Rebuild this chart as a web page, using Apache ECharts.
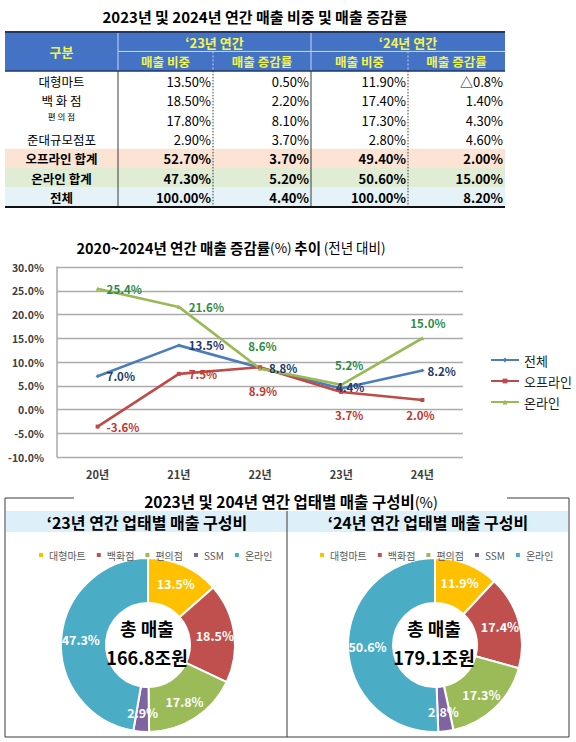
<!DOCTYPE html>
<html><head><meta charset="utf-8">
<script src="https://cdn.jsdelivr.net/npm/echarts@6/dist/echarts.min.js"></script>
<style>html,body{margin:0;padding:0;background:#fff}#c{width:576px;height:742px}</style>
</head><body><div id="c"></div>
<script>
// ---------------- data ----------------
const tableTitle = '2023년 및 2024년 연간 매출 비중 및 매출 증감률';
const tableCorner = '구분';
const tableHeadYears = ['‘23년 연간', '‘24년 연간'];
const tableHeadSub = ['매출 비중', '매출 증감률'];
const tableRows = ['대형마트', '백 화 점', '편 의 점', '준대규모점포', '오프라인 합계', '온라인 합계', '전체'];
const share23 = [13.5, 18.5, 17.8, 2.9, 52.7, 47.3, 100.0];
const growth23 = [0.5, 2.2, 8.1, 3.7, 3.7, 5.2, 4.4];
const share24 = [11.9, 17.4, 17.3, 2.8, 49.4, 50.6, 100.0];
const growth24 = [-0.8, 1.4, 4.3, 4.6, 2.0, 15.0, 8.2];

const lineTitleParts = ['2020~2024년 연간 매출 증감률', '(%)', '추이', '(전년 대비)'];
const years = ['20년', '21년', '22년', '23년', '24년'];
const lineNames = ['전체', '오프라인', '온라인'];
const totalGrowth = [7.0, 13.5, 8.8, 4.4, 8.2];
const offlineGrowth = [-3.6, 7.5, 8.9, 3.7, 2.0];
const onlineGrowth = [25.4, 21.6, 8.6, 5.2, 15.0];
const yMin = -10, yMax = 30, yStep = 5;

const mixTitleParts = ['2023년 및 204년 연간 업태별 매출 구성비', '(%)'];
const mixPanelTitles = ['‘23년 연간 업태별 매출 구성비', '‘24년 연간 업태별 매출 구성비'];
const mixNames = ['대형마트', '백화점', '편의점', 'SSM', '온라인'];
const mix23 = [13.5, 18.5, 17.8, 2.9, 47.3];
const mix24 = [11.9, 17.4, 17.3, 2.8, 50.6];
const totalLabel = '총 매출';
const totalSales = [166.8, 179.1];

// ---------------- layout / style ----------------
const FONT = "'Noto Sans CJK KR','Noto Sans',sans-serif";
const colEdges = [0, 113, 208, 306, 403, 500];
const rowBg = ['#ffffff', '#ffffff', '#ffffff', '#ffffff', '#FCE4D4', '#E1ECD4', '#E5F2F7'];
const HEAD_BG = '#4472C4', HEAD_FG = '#F2F44E';
const lineColors = ['#4A7EBB', '#BE4B48', '#98B954'];
const lineLabelColors = ['#1F3A6B', '#C0392F', '#2E8B45'];
const lineSymbols = ['diamond', 'rect', 'triangle'];
const pieColors = ['#FFC000', '#C0504D', '#9BBB59', '#8064A2', '#4BACC6'];

const placeTotal = [
  {position: 'right', distance: 7}, {position: 'right', distance: 8}, {position: 'right', distance: 7},
  {position: 'inside', offset: [9, -2]}, {position: 'right', distance: 3}];
const placeOffline = [
  {position: 'right', distance: 7}, {position: 'right', distance: 8},
  {position: 'bottom', distance: 16, offset: [3, 0]}, {position: 'bottom', distance: 15, offset: [8, 0]},
  {position: 'bottom', distance: 7, offset: [-2, 0]}];
const placeOnline = [
  {position: 'right', distance: 7}, {position: 'right', distance: 8},
  {position: 'top', distance: 15, offset: [2.5, 0]}, {position: 'top', distance: 12, offset: [8, 0]},
  {position: 'top', distance: 7.5, offset: [5.5, 0]}];

function fmtPct(v) { return v < 0 ? '△' + Math.abs(v).toFixed(1) + '%' : v.toFixed(2) + '%'; }

// table cells
const cells = [];
cells.push({c0: 0, r0: 0, c1: 1, r1: 2, text: tableCorner, bg: HEAD_BG, fg: HEAD_FG, bold: true, align: 'center', size: 13});
tableHeadYears.forEach((t, i) => {
  cells.push({c0: 1 + 2 * i, r0: 0, c1: 3 + 2 * i, r1: 1, text: t, bg: HEAD_BG, fg: HEAD_FG, bold: true, align: 'center', size: 13});
  tableHeadSub.forEach((s, j) => cells.push({c0: 1 + 2 * i + j, r0: 1, c1: 2 + 2 * i + j, r1: 2, text: s, bg: HEAD_BG, fg: HEAD_FG, bold: true, align: 'center', size: 12.5}));
});
tableRows.forEach((name, r) => {
  const bold = r >= 4, small = r === 2;
  cells.push({c0: 0, r0: r + 2, c1: 1, r1: r + 3, text: name, bg: rowBg[r], fg: '#000', bold, align: 'center', size: small ? 8.5 : 12.5, top: small});
  [share23, growth23, share24, growth24].forEach((arr, k) =>
    cells.push({c0: k + 1, r0: r + 2, c1: k + 2, r1: r + 3, text: fmtPct(arr[r]), bg: rowBg[r], fg: '#000', bold, align: 'right', size: 13}));
});

function renderCell(params, api) {
  const c = cells[params.dataIndex];
  const p0 = api.coord([api.value(0), api.value(1)]);
  const p1 = api.coord([api.value(2), api.value(3)]);
  const x = p0[0], y = p0[1], w = p1[0] - p0[0], h = p1[1] - p0[1];
  return {type: 'group', children: [
    {type: 'rect', shape: {x, y, width: w, height: h}, style: {fill: c.bg}},
    {type: 'text', style: {
      text: c.text, x: c.align === 'right' ? x + w - 2 : x + w / 2,
      y: c.top ? y + 1.5 : y + h / 2 + 0.5,
      align: c.align, verticalAlign: c.top ? 'top' : 'middle',
      fontSize: c.size, fontWeight: c.bold ? 'bold' : 'normal', fontFamily: FONT, fill: c.fg}}
  ]};
}
function renderBorders(params, api) {
  const W = colEdges[5];
  const L = (x1, r1, x2, r2, stroke, w, dash) => {
    const a = api.coord([x1, r1]), b = api.coord([x2, r2]);
    const st = {stroke, lineWidth: w};
    if (dash) st.lineDash = dash;
    return {type: 'line', shape: {x1: a[0], y1: a[1], x2: b[0], y2: b[1]}, style: st};
  };
  const ch = [];
  ch.push(L(colEdges[1], 1, W, 1, '#C9D6F0', 1));
  [1, 3].forEach(c => ch.push(L(colEdges[c], 0, colEdges[c], 2, '#C9D6F0', 1)));
  [2, 4].forEach(c => ch.push(L(colEdges[c], 1, colEdges[c], 2, '#C9D6F0', 1, [2, 2])));
  [1, 3].forEach(c => ch.push(L(colEdges[c], 2, colEdges[c], 9, '#3A3A3A', 1)));
  [2, 4].forEach(c => ch.push(L(colEdges[c], 2, colEdges[c], 9, '#3A3A3A', 1, [1.5, 1.5])));
  ch.push(L(0, 0, W, 0, '#1F3864', 2));
  ch.push(L(0, 2, W, 2, '#1F3864', 1.5));
  ch.push(L(0, 9, W, 9, '#111111', 2));
  return {type: 'group', children: ch};
}

function lineSeries(idx, values, place) {
  return {
    name: lineNames[idx], type: 'line', xAxisIndex: 0, yAxisIndex: 0,
    symbol: lineSymbols[idx], symbolSize: 4, showSymbol: true,
    lineStyle: {color: lineColors[idx], width: 2.6},
    itemStyle: {color: lineColors[idx]},
    label: {show: true, color: lineLabelColors[idx], fontSize: 11.5, fontWeight: 'bold', fontFamily: FONT,
      formatter: p => Number(p.value).toFixed(1) + '%'},
    emphasis: {disabled: true},
    data: values.map((v, i) => ({value: v, label: place[i]}))
  };
}

function pieSeries(values, cx) {
  return {
    type: 'pie', center: [cx, 645], radius: [42, 87], startAngle: 90, clockwise: true,
    avoidLabelOverlap: false, emphasis: {disabled: true}, silent: true,
    itemStyle: {borderColor: '#ffffff', borderWidth: 2},
    label: {show: true, position: 'inside', color: '#ffffff', fontWeight: 'bold', fontSize: 12.5, fontFamily: FONT,
      formatter: p => Number(p.value).toFixed(1) + '%'},
    labelLine: {show: false},
    data: values.map((v, i) => ({name: 'p:' + mixNames[i], value: v, itemStyle: {color: pieColors[i]}}))
  };
}

const pieLegend = (left) => ({
  data: mixNames.map(n => 'p:' + n), formatter: n => n.replace(/^p:/, ''),
  left, top: 545, icon: 'rect', itemWidth: 6, itemHeight: 6, itemGap: 9,
  selectedMode: false, textStyle: {fontSize: 10, color: '#595959', fontFamily: FONT}
});

const line = (x1, y1, x2, y2) => ({type: 'line', shape: {x1, y1, x2, y2}, style: {stroke: '#3A3A3A', lineWidth: 1}, z: 10});
const txt = (x, y, text, rich, extra) => ({type: 'text', x, y, z: 20,
  style: Object.assign({text, rich, align: 'center', verticalAlign: 'middle', fontFamily: FONT, fill: '#000'}, extra || {})});

const boldRich = (size) => ({b: {fontSize: size, fontWeight: 'bold', fontFamily: FONT, fill: '#000'},
  n: {fontSize: size - 1, fontWeight: 'normal', fontFamily: FONT, fill: '#000'}});

const option = {
  animation: false,
  backgroundColor: '#ffffff',
  textStyle: {fontFamily: FONT},
  grid: [
    {left: 57, top: 267, width: 406, height: 190},
    {left: 5, top: 32, width: 500, height: 175}
  ],
  xAxis: [
    {type: 'category', gridIndex: 0, data: years, boundaryGap: true,
      axisLine: {show: false}, axisTick: {show: false},
      axisLabel: {fontSize: 11, fontWeight: 'bold', color: '#404040', margin: 11, fontFamily: FONT}},
    {type: 'value', gridIndex: 1, min: 0, max: colEdges[5], show: false}
  ],
  yAxis: [
    {type: 'value', gridIndex: 0, min: yMin, max: yMax, interval: yStep,
      axisLine: {show: true, lineStyle: {color: '#A9A9A9', width: 1.5}}, axisTick: {show: false},
      splitLine: {lineStyle: {color: '#ABABAB', width: 1.3}},
      axisLabel: {formatter: v => v.toFixed(1) + '%', fontSize: 10.5, fontWeight: 'bold', color: '#404040', margin: 13, fontFamily: FONT}},
    {type: 'value', gridIndex: 1, min: 0, max: 9, inverse: true, show: false}
  ],
  legend: [
    {data: lineNames, orient: 'vertical', left: 485, top: 348, itemWidth: 28, itemHeight: 6, itemGap: 7,
      selectedMode: false, textStyle: {fontSize: 13, color: '#222', fontFamily: FONT, lineHeight: 14}},
    pieLegend(32),
    pieLegend(313)
  ],
  series: [
    {type: 'custom', xAxisIndex: 1, yAxisIndex: 1, silent: true, clip: false,
      encode: {x: [0, 2], y: [1, 3]}, renderItem: renderCell,
      data: cells.map(c => [colEdges[c.c0], c.r0, colEdges[c.c1], c.r1])},
    {type: 'custom', xAxisIndex: 1, yAxisIndex: 1, silent: true, clip: false, z: 5,
      encode: {x: 0, y: 1}, renderItem: renderBorders, data: [[0, 0]]},
    lineSeries(0, totalGrowth, placeTotal),
    lineSeries(1, offlineGrowth, placeOffline),
    lineSeries(2, onlineGrowth, placeOnline),
    pieSeries(mix23, 148),
    pieSeries(mix24, 435)
  ],
  graphic: [
    {type: 'rect', shape: {x: 6, y: 511, width: 562, height: 21}, style: {fill: '#DDEFF8'}, z: 1},
    line(5, 498, 74, 498), line(507, 498, 569, 498),
    line(5, 498, 5, 737), line(569, 498, 569, 737), line(5, 737, 569, 737),
    line(287, 511, 287, 737),
    txt(255, 16, tableTitle, null, {fontSize: 15, fontWeight: 'bold'}),
    txt(231, 247, '{b|' + lineTitleParts[0] + '}{n|' + lineTitleParts[1] + '} {b|' + lineTitleParts[2] + '} {n|' + lineTitleParts[3] + '}', boldRich(14.5)),
    txt(291, 501, '{b|' + mixTitleParts[0] + '}{n|' + mixTitleParts[1] + '}', boldRich(15.5)),
    txt(147, 521.5, mixPanelTitles[0], null, {fontSize: 16, fontWeight: 'bold'}),
    txt(428, 521.5, mixPanelTitles[1], null, {fontSize: 16, fontWeight: 'bold'}),
    txt(147, 628, totalLabel, null, {fontSize: 18, fontWeight: 'bold'}),
    txt(147, 657, totalSales[0].toFixed(1) + '조원', null, {fontSize: 18, fontWeight: 'bold'}),
    txt(434, 628, totalLabel, null, {fontSize: 18, fontWeight: 'bold'}),
    txt(434, 657, totalSales[1].toFixed(1) + '조원', null, {fontSize: 18, fontWeight: 'bold'})
  ]
};

const chart = echarts.init(document.getElementById('c'), null, {renderer: 'svg', width: 576, height: 742});
chart.setOption(option);
</script>
</body></html>
